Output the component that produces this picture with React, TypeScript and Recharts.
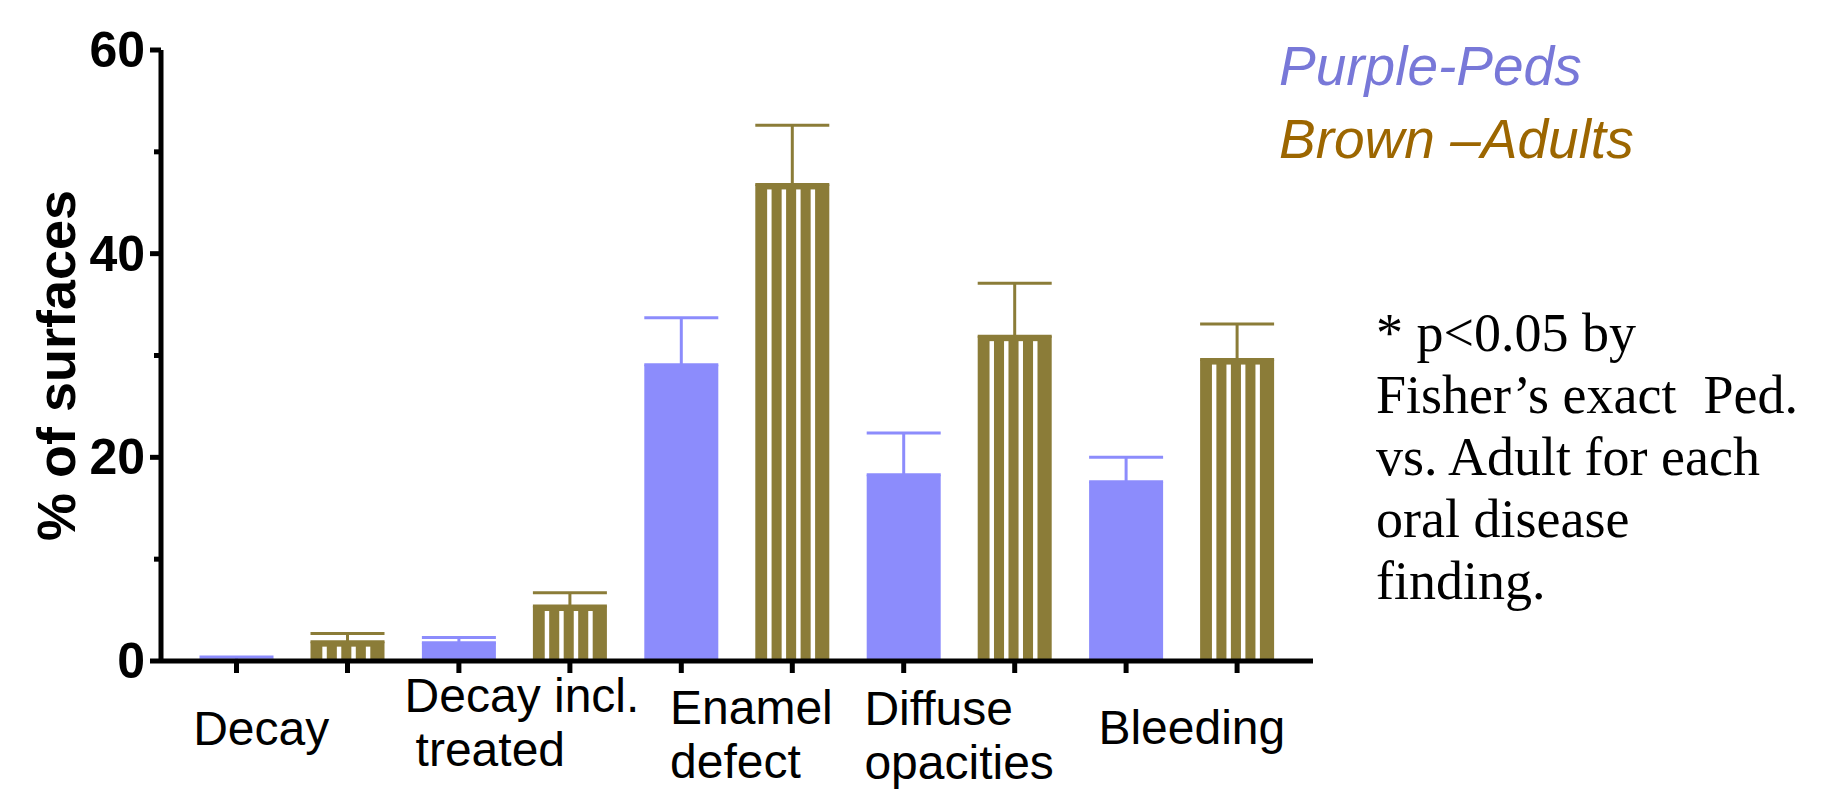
import { BarChart, Bar, XAxis, YAxis, ErrorBar } from 'recharts';

// categories on the x axis ("\n" splits a label over two lines)
const categories = ['Decay', 'Decay incl.\ntreated', 'Enamel\ndefect', 'Diffuse\nopacities', 'Bleeding'];

// % of surfaces
const pedValues = [0.1, 1.8, 29.1, 18.3, 17.6];
const pedErrors = [0.3, 0.5, 4.6, 4.1, 2.4];
const adultValues = [1.9, 5.4, 46.8, 31.9, 29.6];
const adultErrors = [0.8, 1.3, 5.8, 5.2, 3.5];

const yTicks = [0, 10, 20, 30, 40, 50, 60];
const yLabelled = [0, 20, 40, 60];

const legendLines = ['Purple-Peds', 'Brown \u2013Adults'];
const noteLines = ['* p<0.05 by', 'Fisher\u2019s exact  Ped.', 'vs. Adult for each', 'oral disease', 'finding.'];

const PURPLE = '#8C8CFC';
const BROWN = '#8B7C38';
const SANS = '"Liberation Sans", Arial, Helvetica, sans-serif';
const SERIF = '"Liberation Serif", "Times New Roman", serif';

// the labels were separate text boxes in the original, so each gets its own placement
const LABEL_LAYOUT = [
  { anchor: 'middle', dx: -31, dy: 3, indent: 0 },
  { anchor: 'start', dx: -110, dy: -3, indent: 11 },
  { anchor: 'start', dx: -67, dy: 9, indent: 0 },
  { anchor: 'start', dx: -95, dy: 10, indent: 0 },
  { anchor: 'middle', dx: 10, dy: 2, indent: 0 },
];

const data = categories.map((name, i) => ({
  name,
  ped: pedValues[i],
  pedErr: [0, pedErrors[i]],
  adult: adultValues[i],
  adultErr: [0, adultErrors[i]],
}));

const AxisTickMark = ({ cx, y }: { cx: number; y: number }) => (
  <line x1={cx} x2={cx} y1={y} y2={y + 12} stroke="#000" strokeWidth={5} />
);

const PedBar = (props: any) => {
  const { x, y, width, height } = props;
  return (
    <g>
      <rect x={x} y={y} width={width} height={height} fill={PURPLE} />
      <AxisTickMark cx={x + width / 2} y={y + height} />
    </g>
  );
};

// striped brown bar: solid frame with four white vertical stripes
const AdultBar = (props: any) => {
  const { x, y, width, height } = props;
  const stripes = [0, 1, 2, 3].map((k) => x + width * (0.16 + k * 0.196));
  const sw = width * 0.06;
  const top = y + 5;
  return (
    <g>
      <rect x={x} y={y} width={width} height={height} fill={BROWN} />
      {height > 6 &&
        stripes.map((sx, k) => (
          <rect key={k} x={sx} y={top} width={sw} height={y + height - top} fill="#fff" />
        ))}
      <AxisTickMark cx={x + width / 2} y={y + height} />
    </g>
  );
};

const CategoryTick = (props: any) => {
  const { x, y, payload, index } = props;
  const lines = String(payload.value).split('\n');
  const lay = LABEL_LAYOUT[index] ?? { anchor: 'middle', dx: 0, dy: 0, indent: 0 };
  const mid = y + 73 + lay.dy;
  return (
    <text textAnchor={lay.anchor} fontFamily={SANS} fontSize={48} fill="#000">
      {lines.map((ln, k) => (
        <tspan
          key={k}
          x={x + lay.dx + (k > 0 ? lay.indent : 0)}
          y={mid + (k - (lines.length - 1) / 2) * 54}
        >
          {ln}
        </tspan>
      ))}
    </text>
  );
};

const ValueTick = (props: any) => {
  const { x, y, payload } = props;
  const major = yLabelled.includes(payload.value);
  const axisX = x + 16;
  return (
    <g>
      <line x1={major ? axisX - 11 : axisX - 7} x2={axisX} y1={y} y2={y} stroke="#000" strokeWidth={5} />
      {major && (
        <text
          x={x}
          y={y}
          textAnchor="end"
          dominantBaseline="central"
          fontFamily={SANS}
          fontWeight="bold"
          fontSize={50}
          fill="#000"
        >
          {payload.value}
        </text>
      )}
    </g>
  );
};

export default function App() {
  return (
    <div style={{ position: 'absolute', left: 0, top: 0, width: 1827, height: 789, background: '#fff' }}>
      <BarChart
        width={1827}
        height={789}
        data={data}
        margin={{ top: 50, right: 514, bottom: 0, left: 0 }}
        barCategoryGap={18.5}
        barGap={37}
      >
        <XAxis
          dataKey="name"
          interval={0}
          padding={{ left: 20, right: 20 }}
          tickLine={false}
          axisLine={{ stroke: '#000', strokeWidth: 5 }}
          tick={<CategoryTick />}
          height={128}
        />
        <YAxis
          width={161}
          domain={[0, 60]}
          ticks={yTicks}
          interval={0}
          tickSize={11}
          tickMargin={5}
          tickLine={false}
          axisLine={{ stroke: '#000', strokeWidth: 5 }}
          tick={<ValueTick />}
          label={({ viewBox }: any) => (
            <text
              x={56}
              y={viewBox.y + viewBox.height / 2 + 10}
              transform={`rotate(-90, 56, ${viewBox.y + viewBox.height / 2 + 10})`}
              textAnchor="middle"
              dominantBaseline="central"
              fontFamily={SANS}
              fontWeight="bold"
              fontSize={54}
              fill="#000"
            >
              % of surfaces
            </text>
          )}
        />
        <Bar dataKey="ped" fill={PURPLE} shape={PedBar} isAnimationActive={false}>
          <ErrorBar dataKey="pedErr" direction="y" width={37} strokeWidth={3} stroke={PURPLE} />
        </Bar>
        <Bar dataKey="adult" fill={BROWN} shape={AdultBar} isAnimationActive={false}>
          <ErrorBar dataKey="adultErr" direction="y" width={37} strokeWidth={3} stroke={BROWN} />
        </Bar>
        <text fontFamily={SANS} fontStyle="italic" fontSize={55}>
          <tspan x={1279} y={85} fill="#7878D8">
            {legendLines[0]}
          </tspan>
          <tspan x={1279} y={158} fill="#9C6600">
            {legendLines[1]}
          </tspan>
        </text>
        <text fontFamily={SERIF} fontSize={54} fill="#000" style={{ whiteSpace: 'pre' }}>
          {noteLines.map((ln, k) => (
            <tspan key={k} x={1376} y={351 + k * 62}>
              {ln}
            </tspan>
          ))}
        </text>
      </BarChart>
    </div>
  );
}
